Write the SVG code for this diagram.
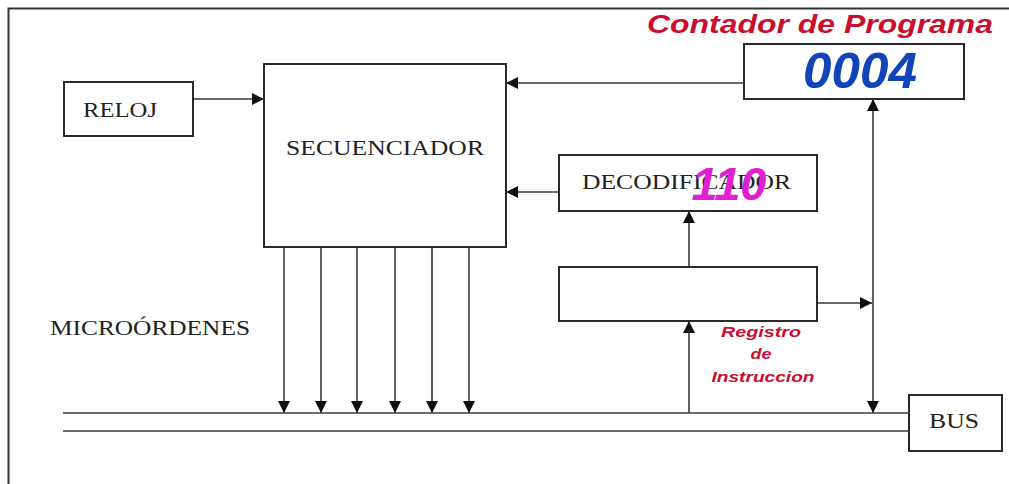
<svg xmlns="http://www.w3.org/2000/svg" width="1009" height="484" viewBox="0 0 1009 484">
<style>
.box{fill:#fff;stroke:#2a2a2a;stroke-width:2}
.ln{fill:none;stroke:#3a3a3a;stroke-width:1.6}
.lbl{font-family:"Liberation Serif",serif;font-size:21px;fill:#222}
.red{font-family:"Liberation Sans",Arial,sans-serif;font-weight:bold;font-style:italic;fill:#c8102e}
</style>
<defs>
<marker id="ah" viewBox="0 0 10 10" refX="10" refY="5" markerWidth="12" markerHeight="12" markerUnits="userSpaceOnUse" orient="auto">
<path d="M0,0 L10,5 L0,10 z" fill="#111"/>
</marker>
</defs>
<rect width="1009" height="484" fill="#fff"/>
<path d="M8.5,484 V8.5 H1009" fill="none" stroke="#333" stroke-width="2"/>
<g id="connectors">
<line class="ln" x1="193" y1="99" x2="264" y2="99" marker-end="url(#ah)"/>
<line class="ln" x1="744" y1="83" x2="506" y2="83" marker-end="url(#ah)"/>
<line class="ln" x1="559" y1="192" x2="506" y2="192" marker-end="url(#ah)"/>
<line class="ln" x1="689" y1="267" x2="689" y2="211" marker-end="url(#ah)"/>
<line class="ln" x1="689" y1="413" x2="689" y2="321" marker-end="url(#ah)"/>
<line class="ln" x1="817" y1="303" x2="872" y2="303" marker-end="url(#ah)"/>
<line class="ln" x1="873" y1="250" x2="873" y2="99" marker-end="url(#ah)"/>
<line class="ln" x1="873" y1="250" x2="873" y2="413" marker-end="url(#ah)"/>
<line class="ln" x1="284" y1="247" x2="284" y2="413" marker-end="url(#ah)"/>
<line class="ln" x1="321" y1="247" x2="321" y2="413" marker-end="url(#ah)"/>
<line class="ln" x1="357" y1="247" x2="357" y2="413" marker-end="url(#ah)"/>
<line class="ln" x1="395" y1="247" x2="395" y2="413" marker-end="url(#ah)"/>
<line class="ln" x1="432" y1="247" x2="432" y2="413" marker-end="url(#ah)"/>
<line class="ln" x1="469" y1="247" x2="469" y2="413" marker-end="url(#ah)"/>
<line class="ln" x1="63" y1="413" x2="909" y2="413"/>
<line class="ln" x1="63" y1="431" x2="909" y2="431"/>
</g>
<g id="reloj">
<rect class="box" x="64" y="82" width="129" height="54"/>
<text class="lbl" x="120" y="117" text-anchor="middle" textLength="74" lengthAdjust="spacingAndGlyphs">RELOJ</text>
</g>
<g id="secuenciador">
<rect class="box" x="264" y="64" width="242" height="183"/>
<text class="lbl" x="385" y="155" text-anchor="middle" textLength="198" lengthAdjust="spacingAndGlyphs">SECUENCIADOR</text>
</g>
<g id="contador">
<text class="red" x="647" y="33" font-size="25" textLength="346" lengthAdjust="spacingAndGlyphs">Contador de Programa</text>
<rect class="box" x="744" y="44" width="220" height="55"/>
<text x="860" y="88" text-anchor="middle" font-family="Liberation Sans,Arial,sans-serif" font-weight="bold" font-style="italic" font-size="50" fill="#1144bb" textLength="114" lengthAdjust="spacingAndGlyphs">0004</text>
</g>
<g id="decodificador">
<rect class="box" x="559" y="155" width="258" height="56"/>
<text class="lbl" x="582" y="189" textLength="209" lengthAdjust="spacingAndGlyphs">DECODIFICADOR</text>
<text x="729" y="200" text-anchor="middle" font-family="Liberation Sans,Arial,sans-serif" font-weight="bold" font-style="italic" font-size="46" fill="#e020d0" textLength="75" lengthAdjust="spacingAndGlyphs">110</text>
</g>
<g id="registro">
<rect class="box" x="559" y="267" width="258" height="54"/>
<text class="red" font-size="14" text-anchor="middle">
<tspan x="763" y="337" textLength="80" lengthAdjust="spacingAndGlyphs">Registro</tspan>
<tspan x="763" y="359" textLength="21" lengthAdjust="spacingAndGlyphs">de</tspan>
<tspan x="763" y="382" textLength="103" lengthAdjust="spacingAndGlyphs">Instruccion</tspan>
</text>
</g>
<g id="microordenes">
<text class="lbl" x="50" y="335" textLength="200" lengthAdjust="spacingAndGlyphs">MICROÓRDENES</text>
</g>
<g id="bus">
<rect class="box" x="909" y="395" width="93" height="56"/>
<text class="lbl" x="954" y="428" text-anchor="middle" textLength="50" lengthAdjust="spacingAndGlyphs">BUS</text>
</g>
</svg>
